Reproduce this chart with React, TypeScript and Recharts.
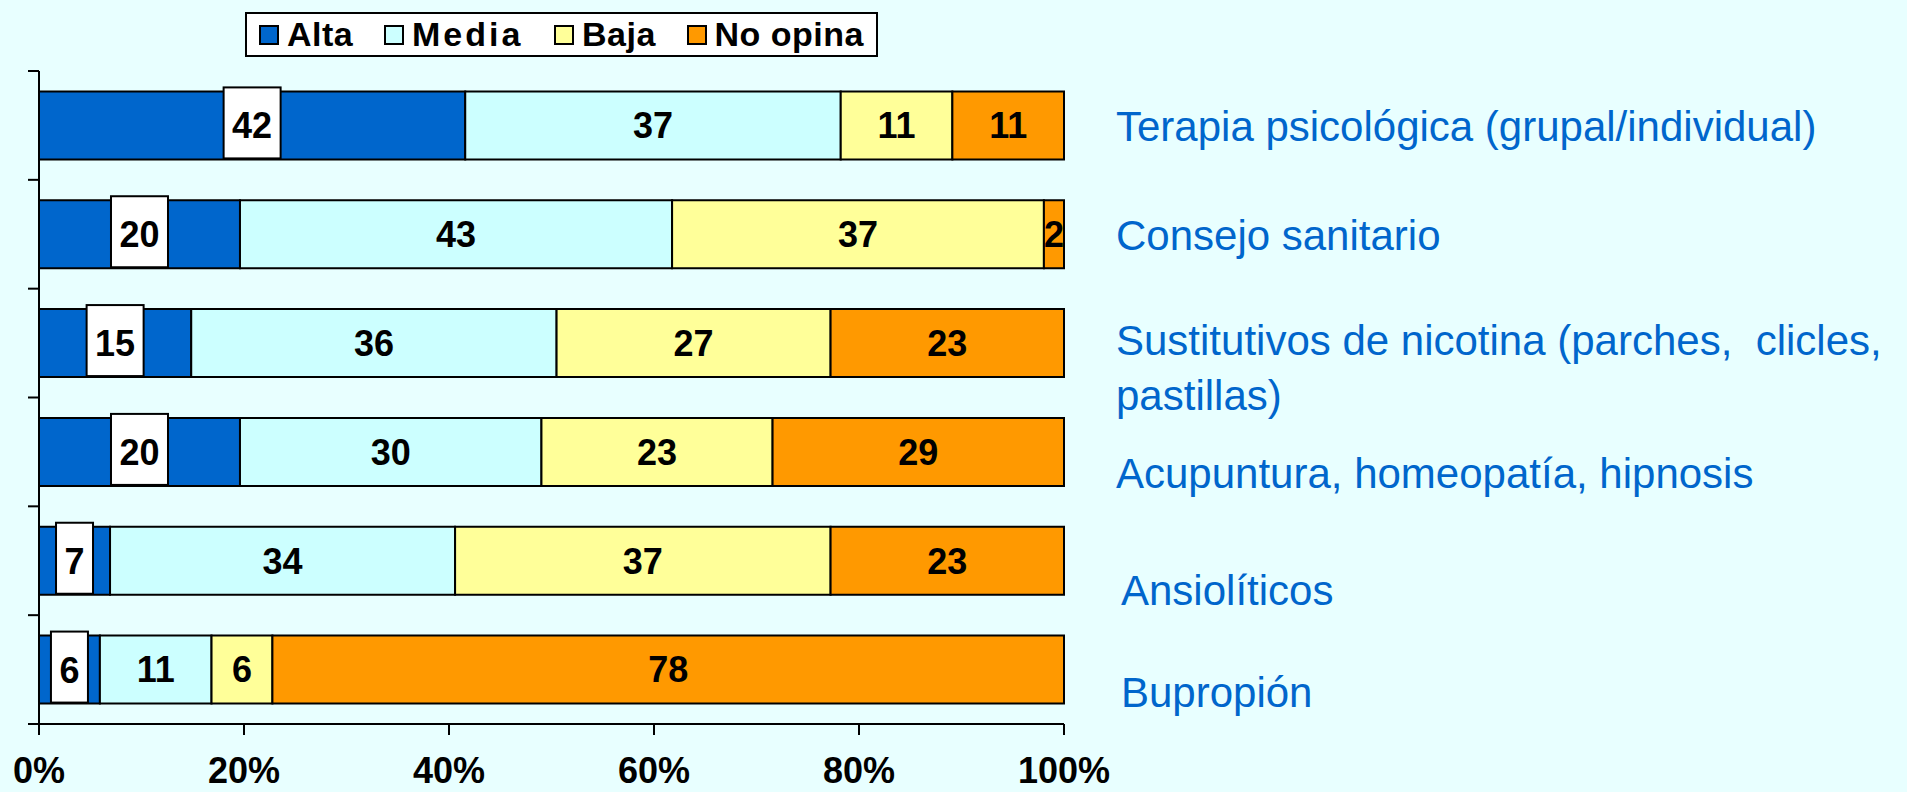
import React from 'react'
import { BarChart, Bar, XAxis, YAxis, Legend, LabelList } from 'recharts'

const categories = [
  'Terapia psicológica (grupal/individual)',
  'Consejo sanitario',
  'Sustitutivos de nicotina (parches,  clicles, pastillas)',
  'Acupuntura, homeopatía, hipnosis',
  'Ansiolíticos',
  'Bupropión',
]
const seriesNames = ['Alta', 'Media', 'Baja', 'No opina']
const alta = [42, 20, 15, 20, 7, 6]
const media = [37, 43, 36, 30, 34, 11]
const baja = [11, 37, 27, 23, 37, 6]
const noOpina = [11, 2, 23, 29, 23, 78]
const xTicks = [0, 0.2, 0.4, 0.6, 0.8, 1]

const data = categories.map((name, i) => ({
  name,
  alta: alta[i],
  media: media[i],
  baja: baja[i],
  noOpina: noOpina[i],
}))

const W = 1907
const H = 792
const MARGIN = { top: 71, right: 43, bottom: 8, left: 9 }
const X_AXIS_H = 60
const BAND = (H - MARGIN.top - MARGIN.bottom - X_AXIS_H) / categories.length
const FONT = '"Liberation Sans", Arial, sans-serif'
const BG = '#E8FFFF'

// small nudges so the right-hand labels sit like the original text boxes
const LABEL_DY = [1, 1, -3, 21, 30, 23]
const LABEL_DX = [0, 0, 0, 0, 5, 5]

function wrap(text: string, maxChars: number) {
  const words = text.split(' ')
  const lines: string[] = []
  let cur = ''
  for (const w of words) {
    const next = cur === '' ? w : cur + ' ' + w
    if (next.length > maxChars && cur !== '') {
      lines.push(cur)
      cur = w
    } else {
      cur = next
    }
  }
  if (cur) lines.push(cur)
  return lines
}

const LeftTick = (props: any) => {
  const { x, y, index, visibleTicksCount } = props
  return (
    <g>
      <line x1={x - 11} x2={x} y1={y - BAND / 2} y2={y - BAND / 2} stroke="#000" strokeWidth={2} />
      {index === visibleTicksCount - 1 && (
        <line x1={x - 11} x2={x} y1={y + BAND / 2} y2={y + BAND / 2} stroke="#000" strokeWidth={2} />
      )}
    </g>
  )
}

const RightTick = (props: any) => {
  const { x, y, payload, index } = props
  const lines = wrap(String(payload.value), 44)
  const tx = x + 52 + (LABEL_DX[index] || 0)
  return (
    <text x={tx} y={y + (LABEL_DY[index] || 0)} fill="#0066CC" fontSize={42} fontFamily={FONT} textAnchor="start">
      {lines.map((l, i) => (
        <tspan key={i} x={tx} dy={i === 0 ? '0.35em' : 55} style={{ whiteSpace: 'pre' }}>
          {l}
        </tspan>
      ))}
    </text>
  )
}

const BoxedLabel = (props: any) => {
  const { x, y, width, height, value } = props
  const cx = x + width / 2
  const cy = y + height / 2
  const bw = String(value).length * 20 + 17
  return (
    <g>
      <rect x={cx - bw / 2} y={y - 4} width={bw} height={height + 3} fill="#fff" stroke="#000" strokeWidth={2} />
      <text x={cx} y={cy} dy="0.36em" textAnchor="middle" fontSize={36} fontWeight={700} fontFamily={FONT} fill="#000">
        {value}
      </text>
    </g>
  )
}

const renderLegend = (props: any) => {
  const items = [...(props.payload || [])].sort(
    (a: any, b: any) => seriesNames.indexOf(a.value) - seriesNames.indexOf(b.value)
  )
  return (
    <div
      style={{
        boxSizing: 'border-box',
        width: 633,
        height: 45,
        background: '#fff',
        border: '2px solid #000',
        display: 'flex',
        alignItems: 'center',
        justifyContent: 'space-between',
        padding: '0 12px',
        fontFamily: FONT,
        fontWeight: 700,
        fontSize: 34,
        color: '#000',
      }}
    >
      {items.map((p: any) => (
        <div key={p.value} style={{ display: 'flex', alignItems: 'center' }}>
          <span
            style={{
              display: 'inline-block',
              boxSizing: 'border-box',
              width: 20,
              height: 20,
              background: p.color,
              border: '2px solid #000',
              marginRight: 8,
            }}
          />
          <span style={{ letterSpacing: p.value === 'Media' ? 3 : 0.5 }}>{p.value}</span>
        </div>
      ))}
    </div>
  )
}

const valueLabel = {
  position: 'center' as const,
  fill: '#000',
  fontSize: 36,
  fontWeight: 700,
  fontFamily: FONT,
}

export default function App() {
  return (
    <div style={{ position: 'absolute', left: 0, top: 0, width: W, height: H, background: BG }}>
      <BarChart
        width={W}
        height={H}
        data={data}
        layout="vertical"
        stackOffset="expand"
        barCategoryGap="18.75%"
        margin={MARGIN}
      >
        <XAxis
          type="number"
          domain={[0, 1]}
          ticks={xTicks}
          tickFormatter={(v: number) => `${Math.round(v * 100)}%`}
          tick={{ fill: '#000', fontSize: 36, fontWeight: 700, fontFamily: FONT }}
          tickSize={11}
          tickMargin={22}
          height={X_AXIS_H}
          stroke="#000"
          strokeWidth={2}
        />
        <YAxis
          yAxisId="left"
          type="category"
          dataKey="name"
          width={30}
          stroke="#000"
          strokeWidth={2}
          tickLine={false}
          tickSize={0}
          tickMargin={0}
          tick={<LeftTick />}
          interval={0}
        />
        <YAxis
          yAxisId="right"
          orientation="right"
          type="category"
          dataKey="name"
          width={800}
          axisLine={false}
          tickLine={false}
          tickSize={0}
          tickMargin={0}
          tick={<RightTick />}
          interval={0}
        />
        <Legend
          verticalAlign="middle"
          align="center"
          wrapperStyle={{ top: 12, left: 245, width: 633, height: 45 }}
          content={renderLegend}
        />
        <Bar yAxisId="left" dataKey="alta" name={seriesNames[0]} stackId="a" fill="#0066CC" stroke="#000" strokeWidth={2} isAnimationActive={false}>
          <LabelList dataKey="alta" content={<BoxedLabel />} />
        </Bar>
        <Bar yAxisId="left" dataKey="media" name={seriesNames[1]} stackId="a" fill="#CCFFFF" stroke="#000" strokeWidth={2} isAnimationActive={false}>
          <LabelList dataKey="media" {...valueLabel} />
        </Bar>
        <Bar yAxisId="left" dataKey="baja" name={seriesNames[2]} stackId="a" fill="#FFFF99" stroke="#000" strokeWidth={2} isAnimationActive={false}>
          <LabelList dataKey="baja" {...valueLabel} />
        </Bar>
        <Bar yAxisId="left" dataKey="noOpina" name={seriesNames[3]} stackId="a" fill="#FF9900" stroke="#000" strokeWidth={2} isAnimationActive={false}>
          <LabelList dataKey="noOpina" {...valueLabel} />
        </Bar>
      </BarChart>
    </div>
  )
}
